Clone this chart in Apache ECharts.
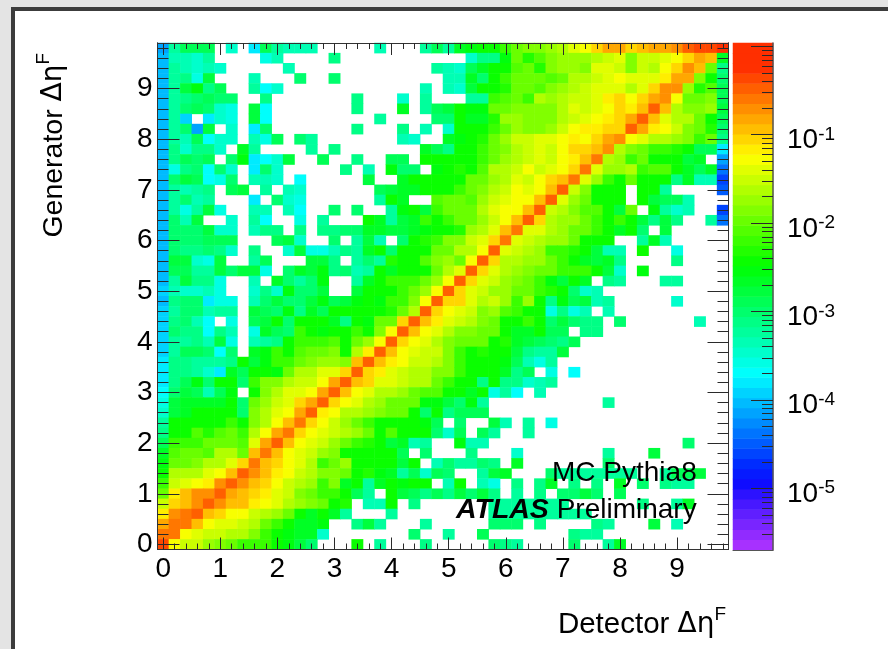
<!DOCTYPE html>
<html><head><meta charset="utf-8">
<style>
html,body{margin:0;padding:0;width:888px;height:649px;overflow:hidden;background:#e4e4e4}
#frame{position:absolute;left:11px;top:7px;width:877px;height:642px;box-sizing:border-box;border-left:4px solid #3c3c3c;border-top:4px solid #3c3c3c;background:#fff}
#c{position:absolute;left:0;top:0;width:888px;height:649px;filter:blur(0.45px)}
</style>
<script src="https://cdn.jsdelivr.net/npm/echarts@6/dist/echarts.min.js"></script>
</head><body><div id="frame"></div><div id="c"></div>
<script>
// Bin centres of both axes (Δη^F)
const binCentres = [0,0.2,0.4,0.6,0.8,1,1.2,1.4,1.6,1.8,2,2.2,2.4,2.6,2.8,3,3.2,3.4,3.6,3.8,4,4.2,4.4,4.6,4.8,5,5.2,5.4,5.6,5.8,6,6.2,6.4,6.6,6.8,7,7.2,7.4,7.6,7.8,8,8.2,8.4,8.6,8.8,9,9.2,9.4,9.6,9.8];
// Colour-band (1..50 on the z palette, 0 or missing = empty). First row is the top (Generator 9.8).
const bandRows = [
[14,22,25,25,25,0,20,0,17,25,22,21,21,21,0,0,0,0,0,21,0,0,0,22,25,22,27,28,29,29,31,33,34,34,35,36,38,39,41,43,43,41,42,43,43,44,46,47,47,48],
[15,21,21,20,22,0,0,0,0,19,21,0,0,0,0,23,0,0,0,0,0,0,0,0,0,0,0,20,23,23,28,33,30,32,34,35,35,35,36,37,38,34,37,37,38,39,41,43,42,27],
[15,22,21,20,21,20,0,0,0,0,0,21,0,0,0,0,0,0,0,0,0,0,0,0,22,21,20,25,27,29,29,32,33,30,34,35,35,34,38,38,37,34,37,36,39,41,44,42,33,23],
[15,22,23,19,26,0,0,0,21,0,0,0,24,0,0,24,0,0,0,0,0,0,0,0,0,21,21,27,24,29,31,33,33,33,32,33,36,36,37,38,39,38,38,38,40,43,43,34,29,24],
[15,22,26,28,23,25,0,0,22,18,20,0,0,0,0,0,0,0,0,0,0,0,0,21,0,21,20,26,29,29,30,33,33,32,34,35,36,37,38,38,38,36,38,41,44,44,35,30,32,25],
[15,22,23,24,25,24,24,0,0,23,0,0,0,0,0,0,0,23,0,0,0,20,0,22,0,0,0,22,22,31,32,33,31,36,35,36,37,37,38,40,41,39,41,43,44,39,33,33,34,25],
[15,22,24,25,24,20,19,0,26,18,0,0,0,0,0,0,0,23,0,0,0,27,0,22,25,26,29,28,28,33,33,34,34,34,34,36,38,37,38,39,41,40,42,46,42,36,34,34,35,26],
[15,22,16,0,17,20,19,0,26,18,0,0,0,0,0,0,0,0,0,22,0,0,0,0,24,24,29,27,27,30,35,35,34,34,34,36,37,38,39,40,41,43,46,42,38,36,36,33,29,25],
[15,22,24,14,26,0,20,0,17,24,0,0,0,0,0,0,0,23,0,0,0,23,0,21,0,20,29,29,29,31,33,35,34,34,35,37,39,40,40,41,41,46,43,40,39,37,34,33,30,24],
[15,22,21,25,18,20,20,0,21,19,25,0,24,22,0,0,0,0,0,0,0,21,20,0,0,27,28,29,30,33,35,37,37,38,38,39,40,39,41,43,44,39,38,36,36,35,34,31,33,23],
[15,23,20,23,23,20,0,27,22,0,0,0,0,22,0,23,0,0,0,0,0,0,0,27,25,23,29,29,31,33,34,36,37,38,37,39,41,41,42,44,36,34,33,31,31,30,29,25,25,17],
[15,23,25,24,25,0,24,28,17,18,20,26,0,0,25,0,0,23,0,0,25,25,0,29,29,29,29,29,31,33,35,36,37,38,37,39,40,42,45,36,35,31,33,29,29,29,26,27,0,14],
[15,19,23,24,18,24,20,0,17,24,20,0,0,0,0,0,23,0,21,0,28,24,24,0,28,29,30,29,32,36,36,37,39,37,38,39,41,45,38,35,35,36,31,32,32,29,27,25,27,12],
[15,24,26,25,18,19,24,0,21,21,20,0,18,0,0,0,0,0,26,0,0,27,29,29,29,29,29,33,33,35,36,38,37,39,41,42,45,38,35,31,29,33,29,29,29,23,27,21,21,10],
[15,22,21,22,23,0,25,26,0,22,0,21,20,0,0,0,0,0,0,25,26,27,27,29,29,29,31,33,34,36,37,39,38,39,42,46,37,34,29,29,29,0,29,29,22,0,0,0,0,11],
[15,22,24,21,22,0,0,0,17,0,24,20,19,0,0,0,0,0,0,22,29,27,0,0,32,33,33,32,35,37,38,39,39,42,46,38,35,33,29,29,29,0,29,26,25,25,21],
[15,22,19,22,26,19,0,0,21,21,0,21,18,0,0,24,0,24,0,0,22,28,29,26,31,33,33,33,36,38,39,39,42,46,37,36,34,32,32,29,26,33,0,28,22,20,21,0,0,10],
[15,24,21,26,0,0,20,0,22,18,0,0,19,0,22,0,0,0,29,27,22,26,27,31,29,31,33,33,35,37,39,42,46,41,36,35,35,33,31,29,31,29,26,23,26,23,0,0,22,12],
[15,24,24,24,26,20,20,0,21,23,23,0,23,0,23,23,24,24,27,27,26,26,27,28,29,29,30,35,36,38,42,45,38,38,36,35,33,33,31,29,27,29,24,0,26],
[15,24,24,24,25,25,25,0,0,0,25,26,20,0,0,24,0,22,26,21,0,24,29,30,31,34,34,37,38,41,45,38,37,36,35,35,33,29,29,29,0,0,22,27,21],
[15,24,23,23,24,23,20,0,23,0,0,20,26,19,19,21,23,22,27,29,24,29,29,29,33,33,36,36,39,46,38,37,36,35,31,31,30,29,26,21,21,0,29,0,0,19],
[15,26,26,20,19,26,0,0,22,25,0,0,0,26,26,23,0,22,24,22,30,29,29,32,34,35,33,39,46,41,36,36,35,35,33,31,29,27,26,27,23,0,0,0,0,23],
[15,25,25,22,22,26,24,26,26,19,0,24,27,26,28,23,24,21,22,29,27,29,29,29,33,36,38,46,41,38,36,35,34,33,33,31,31,31,29,26,20,0,28],
[15,22,26,23,23,19,0,0,21,0,27,24,22,24,28,0,0,22,27,29,31,31,31,33,35,39,46,41,38,37,35,34,33,31,28,26,29,27,0,23,22,0,0,0,22,22],
[16,21,20,20,21,19,0,0,20,23,20,28,24,24,26,0,0,26,29,29,29,31,33,35,39,46,41,38,37,35,35,33,33,31,30,29,24,20,21],
[15,23,24,24,17,19,19,0,21,24,26,24,24,26,28,25,26,28,29,28,31,31,34,39,46,41,41,38,36,37,35,31,35,29,23,28,25,26,21,22,0,0,0,0,0,20],
[16,22,24,24,21,22,22,0,26,25,24,28,23,27,25,29,29,29,29,29,30,33,36,46,41,39,38,37,34,35,32,31,29,29,19,23,19,21,0,21],
[16,23,24,21,18,0,19,0,25,26,29,24,29,29,29,27,23,29,28,33,33,41,46,42,40,38,37,36,34,33,29,29,31,29,24,26,24,23,23,0,24,0,0,0,0,0,0,21],
[16,24,23,23,18,23,21,0,19,27,25,24,31,29,28,29,29,31,29,34,39,46,42,39,38,36,34,34,33,33,29,27,27,29,25,25,0,23,23],
[16,22,22,23,21,26,19,0,21,22,23,29,31,31,31,32,29,33,35,39,46,41,39,38,36,34,33,33,33,29,30,27,26,25,24,23,25],
[16,22,25,25,24,18,24,0,27,28,31,29,32,33,33,34,29,36,40,46,42,39,38,37,37,34,31,29,30,29,29,26,23,22,22,26],
[17,23,23,22,22,22,23,29,26,28,31,31,33,34,35,35,34,42,46,42,40,39,37,37,36,34,31,29,29,29,28,25,21,19,22],
[17,23,23,22,20,17,27,25,29,29,28,33,36,36,38,38,41,46,41,40,38,37,36,36,34,34,31,29,29,29,27,23,25,0,19,0,18],
[17,23,25,28,24,29,29,24,31,34,34,36,37,37,39,43,46,42,41,38,38,37,36,36,33,31,29,29,23,29,23,23,20,21,22],
[18,24,26,25,21,25,28,0,29,34,36,38,38,39,43,46,42,39,38,36,36,35,33,32,32,29,29,27,29,19,22,18,0,21],
[19,26,27,27,27,27,29,24,33,35,37,38,41,43,46,41,39,38,36,35,33,33,33,28,28,26,24,28,22,0,0,0,0,0,0,0,0,0,0,22],
[20,26,27,29,29,29,29,24,34,36,38,39,43,46,40,39,36,36,35,34,33,33,29,24,29,23,25,25,25],
[22,29,29,29,29,29,31,29,34,36,39,42,45,41,39,37,35,33,31,29,29,29,29,28,25,0,24,0,0,26,21,0,22,0,19],
[23,29,29,32,30,32,33,31,36,39,43,45,41,39,38,37,36,35,33,29,32,29,29,29,24,20,25,0,25,22,0,0,22],
[25,31,31,31,33,33,33,32,38,43,46,42,39,38,37,35,33,31,30,29,26,27,21,22,0,0,28,21,21,0,0,0,0,0,0,0,0,0,0,0,0,0,0,0,0,0,24],
[27,32,33,33,32,36,36,33,42,45,42,39,38,37,35,34,29,29,29,29,29,25,0,24,0,0,0,23,0,0,0,20,0,0,0,0,0,0,0,22,0,0,0,26],
[28,33,33,34,36,36,38,41,45,42,41,39,38,36,31,33,35,29,29,29,29,26,29,0,21,24,22,22,24,23,0,27,0,0,0,0,0,0,0,24],
[29,36,36,36,38,39,42,46,44,42,40,39,37,36,34,34,33,29,30,28,27,22,25,20,25,24,0,0,22,26,27,0,0,0,24,22,22,22,22,22,22,22,0,0,22,25,25,26],
[31,37,38,39,40,44,46,44,42,41,39,37,36,35,31,34,27,29,22,27,29,28,29,29,0,21,29,0,21,19,0,23,0,23,27,0,23,0,23,0,27,0,24,0,23,22,22],
[33,40,42,44,44,46,43,42,41,40,38,37,34,33,31,31,29,25,22,0,29,26,25,23,25,23,26,24,26,23,0,22,0,23,0,24,24,26,24,0,25],
[37,41,42,44,46,44,42,42,40,39,38,36,35,34,33,29,30,0,21,21,29,0,23,0,0,0,0,0,0,22,22,22,22,22,22,22,0,0,0,0,0,0,23,0,0,22,27],
[40,44,45,46,42,41,39,39,37,36,35,33,29,27,29,27,22,0,0,0,22,0,0,0,0,0,0,0,0,22,22,22,22,22,22,22,22,22],
[43,45,45,42,39,38,38,37,36,33,31,29,27,27,28,0,0,23,26,22,0,0,0,22,0,0,0,0,0,24,24,24,0,23,0,0,0,0,23,22,0,0,0,26,0,21],
[45,45,39,38,37,37,36,36,34,31,29,28,27,27,20,0,0,0,0,0,0,0,24,0,0,22,0,0,25,0,0,0,0,0,0,0,23,22,22],
[47,39,37,37,35,34,33,31,31,31,29,28,26,24,0,0,0,29,0,22,0,0,0,23,0,0,0,0,0,24,23,22,0,0,0,0,24,0,0,22,27]
];
// Colour-bar: decades that carry a label, and tick positions (z values)
const zLabelExponents = [-5,-4,-3,-2,-1];
const zMajorTicks = [1e-5,1e-4,1e-3,1e-2,1e-1,1];
const zMinorTicks = [3e-6,4e-6,5e-6,6e-6,7e-6,8e-6,9e-6,2e-5,3e-5,4e-5,5e-5,6e-5,7e-5,8e-5,9e-5,2e-4,3e-4,4e-4,5e-4,6e-4,7e-4,8e-4,9e-4,2e-3,3e-3,4e-3,5e-3,6e-3,7e-3,8e-3,9e-3,2e-2,3e-2,4e-2,5e-2,6e-2,7e-2,8e-2,9e-2,2e-1,3e-1,4e-1,5e-1,6e-1,7e-1,8e-1,9e-1];
const zMin = 2e-6, zMax = 1.08;
const xTitle = 'Detector', yTitle = 'Generator';

const FONT = '"Liberation Sans",Arial,sans-serif', INK = '#2a2a2a';
const palette = [];
for (let i = 1; i <= 50; i++) {
  const hue = Math.max(280 - 5.6 * i, 11);
  const light = i <= 8 ? 50 + (9 - i) * 1.2 : 50;
  palette.push('hsl(' + hue + ',100%,' + light + '%)');
}
const cells = [];
bandRows.forEach((row, r) => row.forEach((b, c) => { if (b) cells.push([c, 49 - r, b]); }));
const bandCats = palette.map((_, i) => i + 1);
const barCells = bandCats.map((b, i) => [0, i, b]);
const isMajor = i => i % 5 === 0;
const titleRich = {
  g: {fontFamily: '"DejaVu Sans"', fontSize: 28, color: '#000'},
  s: {fontFamily: FONT, fontSize: 19, color: '#000', verticalAlign: 'top', padding: [0, 0, 20, 0]}
};
function catAxis(extra) {
  return Object.assign({type: 'category', data: binCentres, gridIndex: 0, z: 5,
    boundaryGap: true, axisLabel: {show: false},
    axisLine: {show: true, onZero: false, lineStyle: {color: '#333', width: 1}},
    splitLine: {show: false}}, extra);
}
function ticks(len, major) {
  return {show: true, inside: true, length: len, alignWithLabel: true,
    interval: major ? (i => isMajor(i)) : 0, lineStyle: {color: '#2a2a2a', width: 1}};
}
const option = {
  animation: false,
  backgroundColor: 'transparent',
  textStyle: {fontFamily: FONT},
  grid: [
    {left: 157.5, top: 43, width: 571, height: 506.5, containLabel: false, outerBoundsMode: 'none'},
    {left: 733, top: 43, width: 40, height: 507, containLabel: false, outerBoundsMode: 'none'}
  ],
  xAxis: [
    catAxis({position: 'bottom', axisTick: ticks(12, true),
      name: xTitle + ' {g|Δη}{s|F}', nameLocation: 'middle', nameGap: 56,
      nameTextStyle: {fontFamily: FONT, fontSize: 29.5, color: '#000', rich: titleRich, padding: [0, 0, 0, 398]},
      axisLabel: {show: true, interval: i => isMajor(i), fontFamily: FONT, fontSize: 28, color: '#000', margin: 6}}),
    catAxis({position: 'bottom', axisTick: ticks(6, false)}),
    catAxis({position: 'top', axisTick: ticks(12, true)}),
    catAxis({position: 'top', axisTick: ticks(6, false)}),
    {type: 'category', data: [0], gridIndex: 1, position: 'bottom', z: 5, axisTick: {show: false}, axisLabel: {show: false},
     axisLine: {show: true, onZero: false, lineStyle: {color: '#555', width: 1}}}
  ],
  yAxis: [
    catAxis({position: 'left', axisTick: ticks(22, true),
      name: yTitle + ' {g|Δη}{s|F}', nameLocation: 'middle', nameGap: 84,
      nameTextStyle: {fontFamily: FONT, fontSize: 28.5, color: '#000', rich: titleRich, padding: [0, 0, 0, 302]},
      axisLabel: {show: true, interval: i => isMajor(i), fontFamily: FONT, fontSize: 28, color: '#000', margin: 5, padding: [4, 0, 0, 0]}}),
    catAxis({position: 'left', axisTick: ticks(11, false)}),
    catAxis({position: 'right', axisTick: ticks(21, true)}),
    catAxis({position: 'right', axisTick: ticks(11, false)}),
    {type: 'category', data: bandCats, gridIndex: 1, show: false},
    {type: 'log', gridIndex: 1, position: 'right', min: zMin, max: zMax, z: 5, logBase: 10,
     axisLine: {show: true, onZero: false, lineStyle: {color: '#555', width: 1.5}},
     axisTick: {show: false}, splitLine: {show: false}, minorTick: {show: false},
     axisLabel: {show: true, margin: 14, showMinLabel: false, showMaxLabel: false, padding: [12, 0, 0, 0],
       formatter: v => {
         const e = Math.round(Math.log10(v));
         return zLabelExponents.includes(e) && Math.abs(Math.log10(v) - e) < 0.01 ? '{b|10}{s|' + e + '}' : '';
       },
       rich: {b: {fontFamily: FONT, fontSize: 28, color: '#000'},
              s: {fontFamily: FONT, fontSize: 19, color: '#000', padding: [0, 0, 12, 0]}}}}
  ],
  visualMap: {show: false, type: 'continuous', min: 1, max: 50, dimension: 2, seriesIndex: [0, 1], inRange: {color: palette}},
  graphic: [
    {type: 'text', z: 20, left: 552, top: 459, style: {text: 'MC Pythia8', fontFamily: FONT, fontSize: 28, fill: '#000'}},
    {type: 'text', z: 20, left: 456, top: 496, style: {
      text: '{a|ATLAS}{p| Preliminary}',
      rich: {a: {fontFamily: FONT, fontSize: 28.5, fontWeight: 'bold', fontStyle: 'italic', color: '#000'},
             p: {fontFamily: FONT, fontSize: 28, color: '#000'}}}}
  ],
  series: [
    {type: 'heatmap', xAxisIndex: 0, yAxisIndex: 0, z: 2, data: cells, progressive: 0, itemStyle: {borderWidth: 0}},
    {type: 'heatmap', xAxisIndex: 4, yAxisIndex: 4, z: 2, data: barCells, progressive: 0},
    {type: 'custom', xAxisIndex: 4, yAxisIndex: 5, z: 6, silent: true,
     data: zMajorTicks.map(v => [0, v, 22]).concat(zMinorTicks.map(v => [0, v, 11])),
     encode: {x: 0, y: 1},
     renderItem: (params, api) => {
       const y = Math.round(api.coord([0, api.value(1)])[1]) + 0.5;
       const right = params.coordSys.x + params.coordSys.width;
       return {type: 'line', shape: {x1: right - api.value(2), y1: y, x2: right, y2: y},
               style: {stroke: '#2a2a2a', lineWidth: 1}};
     }}
  ]
};
const chart = echarts.init(document.getElementById('c'), null, {renderer: 'canvas'});
chart.setOption(option);
</script></body></html>
